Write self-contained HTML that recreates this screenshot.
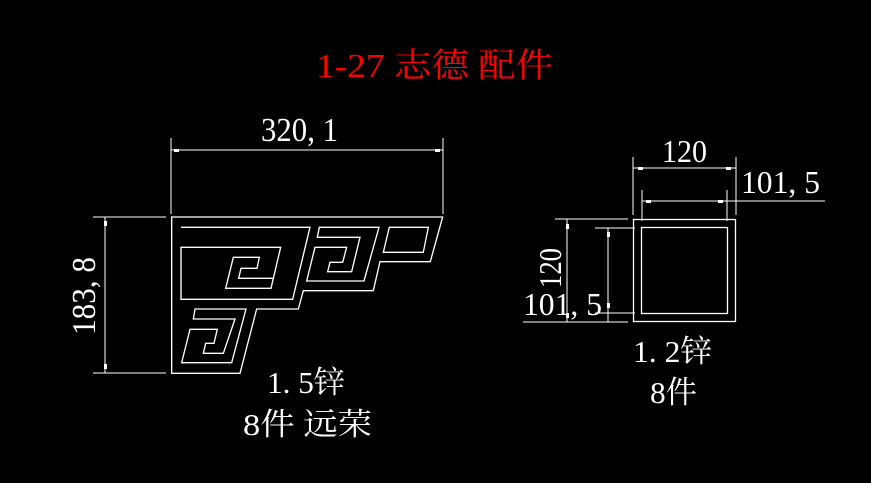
<!DOCTYPE html>
<html><head><meta charset="utf-8"><style>
html,body{margin:0;padding:0;background:#000;width:871px;height:483px;overflow:hidden}
svg{display:block}
text{font-family:"Liberation Serif","Noto Serif CJK SC",serif}
</style></head><body>
<svg width="871" height="483" viewBox="0 0 871 483" xmlns="http://www.w3.org/2000/svg">
<rect width="871" height="483" fill="#000"/>
<text x="316" y="77" fill="#ff0000" font-size="34" textLength="237" lengthAdjust="spacingAndGlyphs">1-27 志德 配件</text>

<g transform="translate(160,200) scale(0.3333)" fill="none" stroke="#fff" stroke-width="4">
<path d="M35,51 L848,51 L811,185 L660,185 L640,272 L430,272 L415,327 L290,327 L240,520 L35,520 Z"/>
<path d="M63,82 L450,82 L398,298 L63,298 L63,142 L362,142 L333,265 L197,265 L220,172 L298,172 L291,205 L243,205 L236,235 L340,235"/>
<path d="M478,82 L657,82 L612,243 L440,243 L465,142 L560,142 L548,187 L510,187 L503,215 L575,215 L600,112 L472,112 Z"/>
<path d="M688,82 L805,82 L790,157 L670,157 Z"/>
<path d="M105,327 L258,327 L215,488 L65,488 L90,388 L172,388 L162,430 L137,430 L130,460 L190,460 L225,357 L100,357 Z"/>
</g>
<g stroke="#fff" stroke-width="1" fill="none">
<line x1="171" y1="138" x2="171" y2="214"/>
<line x1="443" y1="138" x2="443" y2="214"/>
<line x1="171" y1="150" x2="443" y2="150"/>
<line x1="93" y1="217" x2="166" y2="217"/>
<line x1="93" y1="373" x2="166" y2="373"/>
<line x1="105" y1="217" x2="105" y2="373"/>
</g>
<g fill="#fff">
<rect x="174" y="149" width="5" height="3"/><rect x="435" y="149" width="5" height="3"/>
<rect x="104" y="221" width="3" height="5"/><rect x="104" y="364" width="3" height="5"/>
</g>
<text x="261" y="141" fill="#fff" font-size="34" textLength="77" lengthAdjust="spacingAndGlyphs">320, 1</text>
<text transform="translate(95,335) rotate(-90)" fill="#fff" font-size="34" textLength="78" lengthAdjust="spacingAndGlyphs">183, 8</text>
<text x="267" y="393" fill="#fff" font-size="31" textLength="78" lengthAdjust="spacingAndGlyphs">1. 5锌</text>
<text x="243" y="435" fill="#fff" font-size="31" textLength="129" lengthAdjust="spacingAndGlyphs">8件 远荣</text>

<g stroke="#fff" stroke-width="1.3" fill="none">
<rect x="633.5" y="219.5" width="102" height="102"/>
<rect x="641.5" y="227.5" width="86" height="86"/>
</g>
<g stroke="#fff" stroke-width="1" fill="none">
<line x1="633" y1="157" x2="633" y2="215"/>
<line x1="736" y1="157" x2="736" y2="215"/>
<line x1="633" y1="168" x2="736" y2="168"/>
<line x1="642" y1="190" x2="642" y2="221"/>
<line x1="727" y1="190" x2="727" y2="221"/>
<line x1="642" y1="201" x2="825" y2="201"/>
<line x1="555" y1="219" x2="628" y2="219"/>
<line x1="523" y1="322" x2="628" y2="322"/>
<line x1="567" y1="219" x2="567" y2="322"/>
<line x1="595" y1="228" x2="635" y2="228"/>
<line x1="595" y1="313" x2="635" y2="313"/>
<line x1="608" y1="228" x2="608" y2="322"/>
</g>
<g fill="#fff">
<rect x="638" y="167" width="5" height="3"/><rect x="726" y="167" width="5" height="3"/>
<rect x="646" y="200" width="5" height="3"/><rect x="718" y="200" width="5" height="3"/>
<rect x="566" y="224" width="3" height="5"/><rect x="566" y="313" width="3" height="5"/>
<rect x="607" y="232" width="3" height="5"/><rect x="607" y="303" width="3" height="5"/>
</g>
<text x="662" y="162" fill="#fff" font-size="32" textLength="45" lengthAdjust="spacingAndGlyphs">120</text>
<text x="741" y="193" fill="#fff" font-size="32" textLength="79" lengthAdjust="spacingAndGlyphs">101, 5</text>
<text transform="translate(561,288) rotate(-90)" fill="#fff" font-size="32" textLength="40" lengthAdjust="spacingAndGlyphs">120</text>
<text x="523" y="315" fill="#fff" font-size="32" textLength="79" lengthAdjust="spacingAndGlyphs">101, 5</text>
<text x="633" y="362" fill="#fff" font-size="31" textLength="79" lengthAdjust="spacingAndGlyphs">1. 2锌</text>
<text x="650" y="403" fill="#fff" font-size="31" textLength="47" lengthAdjust="spacingAndGlyphs">8件</text>
</svg>
</body></html>
